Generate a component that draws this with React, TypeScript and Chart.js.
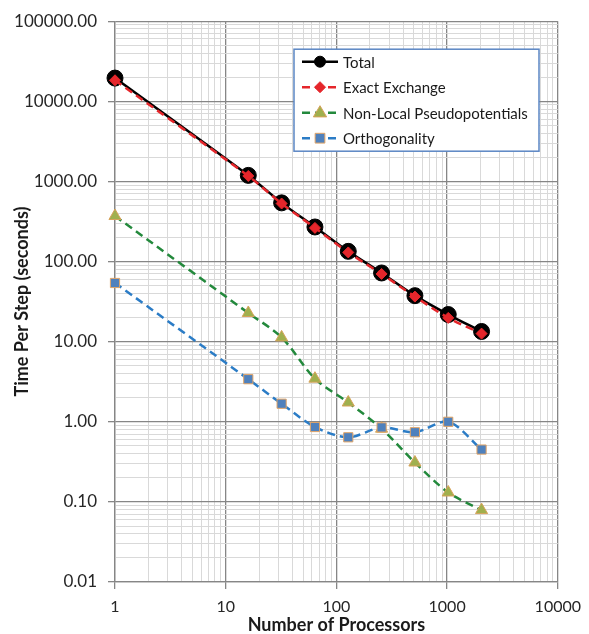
import React, { useEffect, useRef } from 'react';
import { Chart, registerables } from 'chart.js';

Chart.register(...registerables);

const processors = [1, 16, 32, 64, 128, 256, 512, 1024, 2048];
const totalTime = [19500, 1190, 540, 270, 134, 72, 37.5, 21.8, 13.4];
const exactExchangeTime = [18300, 1170, 530, 263, 130, 70, 36.5, 19.8, 12.6];
const nonLocalTime = [370, 22.8, 11.3, 3.45, 1.74, 0.82, 0.31, 0.131, 0.079];
const orthogonalityTime = [54, 3.4, 1.68, 0.86, 0.64, 0.85, 0.74, 1.0, 0.45];

const seriesLabels = ['Total', 'Exact Exchange', 'Non-Local Pseudopotentials', 'Orthogonality'];
const xTickLabels = ['1', '10', '100', '1000', '10000'];
const yTickLabels = ['0.01', '0.10', '1.00', '10.00', '100.00', '1000.00', '10000.00', '100000.00'];

const FONT = 'Lato, "Open Sans", sans-serif';
const MAJOR = '#868686';
const MINOR = '#d9d9d9';

function logTicks(min: number, max: number) {
  const out: { value: number }[] = [];
  const e0 = Math.round(Math.log10(min));
  const e1 = Math.round(Math.log10(max));
  for (let e = e0; e <= e1; e++) {
    for (let k = 1; k <= 9; k++) {
      const v = Number(k + 'e' + e);
      if (v >= min * 0.999 && v <= max * 1.001) out.push({ value: v });
    }
  }
  return out;
}

function labelFor(labels: string[], value: number) {
  for (const l of labels) {
    const n = Number(l);
    if (Math.abs(n - value) / n < 1e-6) return l;
  }
  return '';
}

function isMajor(labels: string[], value: number) {
  return labelFor(labels, value) !== '';
}

function drawMarker(ctx: CanvasRenderingContext2D, style: string, x: number, y: number, r: number, fill: string, stroke: string, bw: number) {
  ctx.beginPath();
  if (style === 'circle') {
    ctx.arc(x, y, r, 0, Math.PI * 2);
  } else if (style === 'rectRot') {
    ctx.moveTo(x, y - r);
    ctx.lineTo(x + r, y);
    ctx.lineTo(x, y + r);
    ctx.lineTo(x - r, y);
    ctx.closePath();
  } else if (style === 'triangle') {
    ctx.moveTo(x, y - r);
    ctx.lineTo(x + r * 0.95, y + r * 0.6);
    ctx.lineTo(x - r * 0.95, y + r * 0.6);
    ctx.closePath();
  } else {
    ctx.rect(x - r * 0.75, y - r * 0.75, r * 1.5, r * 1.5);
  }
  ctx.fillStyle = fill;
  ctx.fill();
  ctx.lineWidth = bw;
  ctx.strokeStyle = stroke;
  ctx.stroke();
}

const boxLegend = {
  id: 'boxLegend',
  afterDraw(chart: any) {
    const { ctx, chartArea } = chart;
    const x0 = chartArea.left + 179;
    const y0 = chartArea.top + 28;
    const w = 245;
    const h = 102;
    ctx.save();
    ctx.fillStyle = '#ffffff';
    ctx.fillRect(x0, y0, w, h);
    ctx.strokeStyle = '#5b86c4';
    ctx.lineWidth = 1.5;
    ctx.strokeRect(x0, y0, w, h);
    chart.data.datasets.forEach((ds: any, i: number) => {
      const cy = y0 + 12.5 + i * 25.5;
      ctx.beginPath();
      ctx.setLineDash(ds.borderDash || []);
      ctx.strokeStyle = ds.borderColor;
      ctx.lineWidth = ds.borderWidth;
      ctx.moveTo(x0 + 8, cy);
      ctx.lineTo(x0 + 44, cy);
      ctx.stroke();
      ctx.setLineDash([]);
      drawMarker(ctx, ds.pointStyle, x0 + 26, cy, ds.legendRadius, ds.pointBackgroundColor, ds.pointBorderColor, ds.pointBorderWidth);
      ctx.fillStyle = '#1a1a1a';
      ctx.font = '15px ' + FONT;
      ctx.textBaseline = 'middle';
      ctx.textAlign = 'left';
      ctx.fillText(ds.label, x0 + 49, cy + 1);
    });
    ctx.restore();
  },
};

function toPoints(ys: number[]) {
  return processors.map((x, i) => ({ x, y: ys[i] }));
}

export default function App() {
  const ref = useRef<HTMLCanvasElement | null>(null);

  useEffect(() => {
    document.body.style.margin = '0';
    const canvas = ref.current;
    if (!canvas) return;
    const chart = new Chart(canvas, {
      type: 'line',
      data: {
        datasets: [
          {
            label: seriesLabels[0],
            data: toPoints(totalTime),
            borderColor: '#000000',
            borderWidth: 2.5,
            pointStyle: 'circle',
            pointRadius: 8,
            pointBackgroundColor: '#000000',
            pointBorderColor: '#000000',
            pointBorderWidth: 1,
            tension: 0.3,
            order: 3,
            clip: false,
            legendRadius: 5.5,
          } as any,
          {
            label: seriesLabels[1],
            data: toPoints(exactExchangeTime),
            borderColor: '#e5262b',
            borderWidth: 2.5,
            borderDash: [8, 5],
            pointStyle: 'rectRot',
            pointRadius: 5.5,
            pointBackgroundColor: '#e5262b',
            pointBorderColor: '#e5262b',
            pointBorderWidth: 1,
            tension: 0.3,
            order: 2,
            clip: false,
            legendRadius: 5.5,
          } as any,
          {
            label: seriesLabels[2],
            data: toPoints(nonLocalTime),
            borderColor: '#23893c',
            borderWidth: 2.5,
            borderDash: [8, 5],
            pointStyle: 'triangle',
            pointRadius: 7,
            pointBackgroundColor: '#a0b04e',
            pointBorderColor: '#d7a35a',
            pointBorderWidth: 1,
            tension: 0.3,
            order: 1,
            clip: false,
            legendRadius: 7,
          } as any,
          {
            label: seriesLabels[3],
            data: toPoints(orthogonalityTime),
            borderColor: '#2b7cc6',
            borderWidth: 2.5,
            borderDash: [8, 5],
            pointStyle: 'rect',
            pointRadius: 6.5,
            pointBackgroundColor: '#4f81bd',
            pointBorderColor: '#e3a566',
            pointBorderWidth: 1,
            tension: 0.3,
            order: 0,
            clip: false,
            legendRadius: 6.5,
          } as any,
        ],
      },
      options: {
        responsive: false,
        animation: false,
        devicePixelRatio: 1,
        layout: { padding: { top: 21, right: 26, left: 0, bottom: 0 } },
        plugins: {
          legend: { display: false },
          tooltip: { enabled: false },
        },
        scales: {
          x: {
            type: 'logarithmic',
            min: 1,
            max: 10000,
            afterFit: (s: any) => {
              s.height = 52;
            },
            afterBuildTicks: (s: any) => {
              s.ticks = logTicks(1, 10000);
            },
            ticks: {
              autoSkip: false,
              maxRotation: 0,
              padding: 8,
              color: '#262626',
              font: { family: FONT, size: 16 },
              callback: (v: any) => labelFor(xTickLabels, Number(v)),
            },
            grid: {
              color: (c: any) => (isMajor(xTickLabels, c.tick.value) ? MAJOR : MINOR),
              lineWidth: (c: any) => (isMajor(xTickLabels, c.tick.value) ? 1.3 : 1),
              tickColor: (c: any) => (isMajor(xTickLabels, c.tick.value) ? MAJOR : 'rgba(0,0,0,0)'),
              tickLength: 7,
              drawTicks: true,
            },
            border: { color: MAJOR, width: 1.3 },
            title: {
              display: true,
              text: 'Number of Processors',
              color: '#1a1a1a',
              font: { family: FONT, size: 18, weight: 'bold', lineHeight: 1 },
              padding: { top: 0, bottom: 0 },
            },
          },
          y: {
            type: 'logarithmic',
            min: 0.01,
            max: 100000,
            afterFit: (s: any) => {
              s.width = 115;
            },
            afterBuildTicks: (s: any) => {
              s.ticks = logTicks(0.01, 100000);
            },
            ticks: {
              autoSkip: false,
              padding: 11,
              color: '#262626',
              font: { family: FONT, size: 17 },
              callback: (v: any) => labelFor(yTickLabels, Number(v)),
            },
            grid: {
              color: (c: any) => (isMajor(yTickLabels, c.tick.value) ? MAJOR : MINOR),
              lineWidth: (c: any) => (isMajor(yTickLabels, c.tick.value) ? 1.3 : 1),
              tickColor: (c: any) => (isMajor(yTickLabels, c.tick.value) ? MAJOR : 'rgba(0,0,0,0)'),
              tickLength: 7,
              drawTicks: true,
            },
            border: { color: MAJOR, width: 1.3 },
            title: {
              display: true,
              text: 'Time Per Step (seconds)',
              color: '#1a1a1a',
              font: { family: FONT, size: 18, weight: 'bold' },
              padding: { top: 11, bottom: 0 },
            },
          },
        },
      } as any,
      plugins: [boxLegend],
    });
    return () => chart.destroy();
  }, []);

  return <canvas ref={ref} width={589} height={634} style={{ display: 'block' }} />;
}
